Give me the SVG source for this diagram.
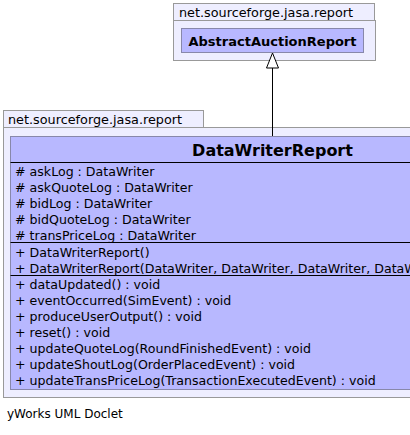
<svg xmlns="http://www.w3.org/2000/svg" width="410" height="435" viewBox="0 0 410 435">
<style>
.pkg{fill:#eeeeff;stroke:#999999;stroke-width:1}
.cls{fill:#b8b8ff;stroke:#8888aa;stroke-width:1}
.sep{stroke:#000000;stroke-width:1}
.t{font-family:"DejaVu Sans",Verdana,sans-serif;font-size:12.6px;fill:#000000}
.f{font-family:"DejaVu Sans",Verdana,sans-serif;font-size:12px;fill:#000000}
.pl{font-family:"DejaVu Sans",Verdana,sans-serif;font-size:12.8px;fill:#000000}
.b13{font-family:"DejaVu Sans",Verdana,sans-serif;font-size:13px;font-weight:bold;fill:#000000}
.b16{font-family:"DejaVu Sans",Verdana,sans-serif;font-size:16px;font-weight:bold;fill:#000000}
</style>
<rect width="410" height="435" fill="#ffffff"/>
<g id="pkg-top">
<rect class="pkg" x="173.5" y="3.5" width="201" height="17"/>
<rect class="pkg" x="173.5" y="20.5" width="202" height="40"/>
<text class="pl" x="179" y="17">net.sourceforge.jasa.report</text>
</g>
<g id="AbstractAuctionReport">
<rect class="cls" x="181.5" y="28.5" width="182" height="24"/>
<text class="b13" x="272.5" y="45.5" text-anchor="middle">AbstractAuctionReport</text>
</g>
<g id="pkg-bottom">
<rect class="pkg" x="3.5" y="110.5" width="200" height="17"/>
<rect class="pkg" x="3.5" y="127.5" width="430" height="270"/>
<text class="pl" x="8" y="124">net.sourceforge.jasa.report</text>
</g>
<g id="DataWriterReport">
<rect class="cls" x="10.5" y="136.5" width="540" height="253"/>
<line class="sep" x1="10.5" y1="162.5" x2="550" y2="162.5"/>
<line class="sep" x1="10.5" y1="242.5" x2="550" y2="242.5"/>
<line class="sep" x1="10.5" y1="275.5" x2="550" y2="275.5"/>
<text class="b16" x="272.5" y="155.5" text-anchor="middle">DataWriterReport</text>
<text class="t" x="15" y="175.5"># askLog : DataWriter</text>
<text class="t" x="15" y="191.5"># askQuoteLog : DataWriter</text>
<text class="t" x="15" y="207.5"># bidLog : DataWriter</text>
<text class="t" x="15" y="223.5"># bidQuoteLog : DataWriter</text>
<text class="t" x="15" y="239.5"># transPriceLog : DataWriter</text>
<text class="t" x="15" y="256.5">+ DataWriterReport()</text>
<text class="t" x="15" y="272.5">+ DataWriterReport(DataWriter, DataWriter, DataWriter, DataW</text>
<text class="t" x="15" y="288.5">+ dataUpdated() : void</text>
<text class="t" x="15" y="304.5">+ eventOccurred(SimEvent) : void</text>
<text class="t" x="15" y="320.5">+ produceUserOutput() : void</text>
<text class="t" x="15" y="336.5">+ reset() : void</text>
<text class="t" x="15" y="352.5">+ updateQuoteLog(RoundFinishedEvent) : void</text>
<text class="t" x="15" y="368.5">+ updateShoutLog(OrderPlacedEvent) : void</text>
<text class="t" x="15" y="384.5">+ updateTransPriceLog(TransactionExecutedEvent) : void</text>
</g>
<g id="connectors">
<line x1="272.5" y1="68" x2="272.5" y2="136" stroke="#000000" stroke-width="1"/>
<polygon points="272.5,53 266.5,68 278.5,68" fill="#ffffff" stroke="#000000" stroke-width="1"/>
</g>
<text class="f" x="7" y="418">yWorks UML Doclet</text>
</svg>
